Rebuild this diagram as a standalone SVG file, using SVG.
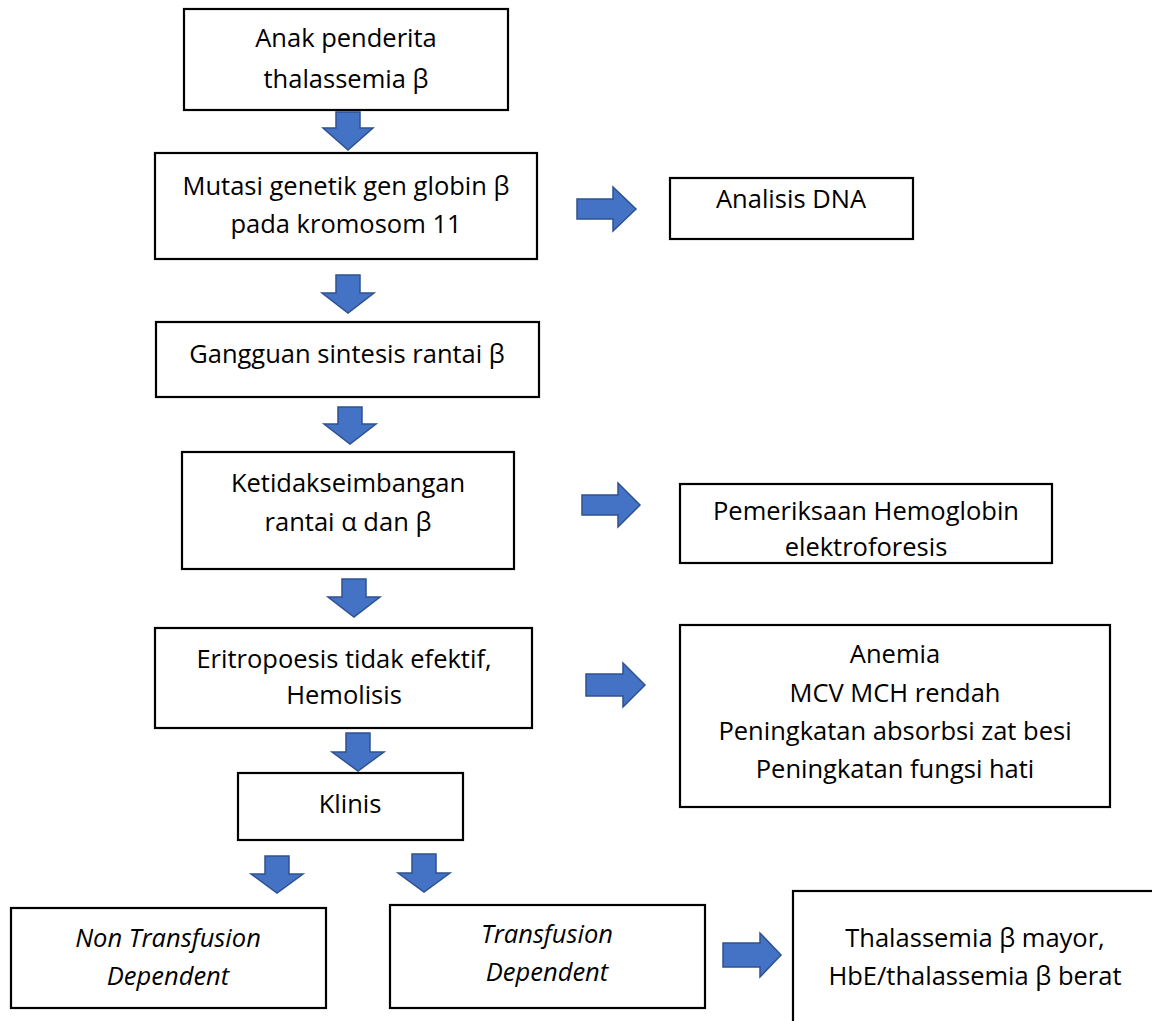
<svg xmlns="http://www.w3.org/2000/svg" width="1152" height="1021" viewBox="0 0 1152 1021">
<style>
.box{fill:#fff;stroke:#000;stroke-width:2.2}
.t{font-family:"Open Sans","Liberation Sans",sans-serif;font-size:25.5px;fill:#000;text-anchor:middle}
.i{font-style:italic}
.arr{fill:#4472C4;stroke:#2F528F;stroke-width:1.5;stroke-linejoin:miter}
</style>
<rect x="0" y="0" width="1152" height="1021" fill="#fff"/>
<g id="connectors">
<polygon class="arr" points="336,112 360,112 360,128 373,128 348,150 323,128 336,128"/>
<polygon class="arr" points="336,275 360,275 360,293 374,293 348,313 322,293 336,293"/>
<polygon class="arr" points="338,407 362,407 362,424 376,424 350,444 324,424 338,424"/>
<polygon class="arr" points="342,579 366,579 366,597 380,597 354,617 328,597 342,597"/>
<polygon class="arr" points="346,733 370,733 370,752 384,752 358,771 332,752 346,752"/>
<polygon class="arr" points="265,856 289,856 289,874 303,874 277,893 251,874 265,874"/>
<polygon class="arr" points="412,854 436,854 436,873 450,873 424,892 398,873 412,873"/>
<polygon class="arr" points="577,199 613,199 613,187 636,209 613,231 613,219 577,219"/>
<polygon class="arr" points="582,495 618,495 618,483 640,505 618,527 618,515 582,515"/>
<polygon class="arr" points="586,674 623,674 623,663 645,685 623,707 623,696 586,696"/>
<polygon class="arr" points="723,943 760,943 760,933 781,955 760,977 760,967 723,967"/>
</g>
<g id="n1"><rect class="box" x="184" y="9" width="324" height="101"/>
<text class="t" x="346" y="47">Anak penderita</text><text class="t" x="346" y="88">thalassemia β</text></g>
<g id="n2"><rect class="box" x="155" y="153" width="382" height="106"/>
<text class="t" x="346" y="195">Mutasi genetik gen globin β</text><text class="t" x="346" y="233">pada kromosom 11</text></g>
<g id="n3"><rect class="box" x="670" y="178" width="243" height="61"/>
<text class="t" x="791" y="208">Analisis DNA</text></g>
<g id="n4"><rect class="box" x="156" y="322" width="383" height="75"/>
<text class="t" x="347" y="363">Gangguan sintesis rantai β</text></g>
<g id="n5"><rect class="box" x="182" y="452" width="332" height="117"/>
<text class="t" x="348" y="492">Ketidakseimbangan</text><text class="t" x="348" y="531">rantai α dan β</text></g>
<g id="n6"><rect class="box" x="680" y="484" width="372" height="79"/>
<text class="t" x="866" y="520">Pemeriksaan Hemoglobin</text><text class="t" x="866" y="556">elektroforesis</text></g>
<g id="n7"><rect class="box" x="155" y="628" width="377" height="100"/>
<text class="t" x="344" y="668">Eritropoesis tidak efektif,</text><text class="t" x="344" y="704">Hemolisis</text></g>
<g id="n8"><rect class="box" x="680" y="625" width="430" height="182"/>
<text class="t" x="895" y="663">Anemia</text><text class="t" x="895" y="702">MCV MCH rendah</text><text class="t" x="895" y="740">Peningkatan absorbsi zat besi</text><text class="t" x="895" y="778">Peningkatan fungsi hati</text></g>
<g id="n9"><rect class="box" x="238" y="773" width="225" height="67"/>
<text class="t" x="350" y="813">Klinis</text></g>
<g id="n10"><rect class="box" x="11" y="908" width="315" height="100"/>
<text class="t i" x="168" y="947">Non Transfusion</text><text class="t i" x="168" y="985">Dependent</text></g>
<g id="n11"><rect class="box" x="390" y="905" width="315" height="103"/>
<text class="t i" x="547" y="943">Transfusion</text><text class="t i" x="547" y="981">Dependent</text></g>
<g id="n12"><rect class="box" x="793" y="891" width="364" height="150"/>
<text class="t" x="975" y="947">Thalassemia β mayor,</text><text class="t" x="975" y="985">HbE/thalassemia β berat</text></g>
</svg>
